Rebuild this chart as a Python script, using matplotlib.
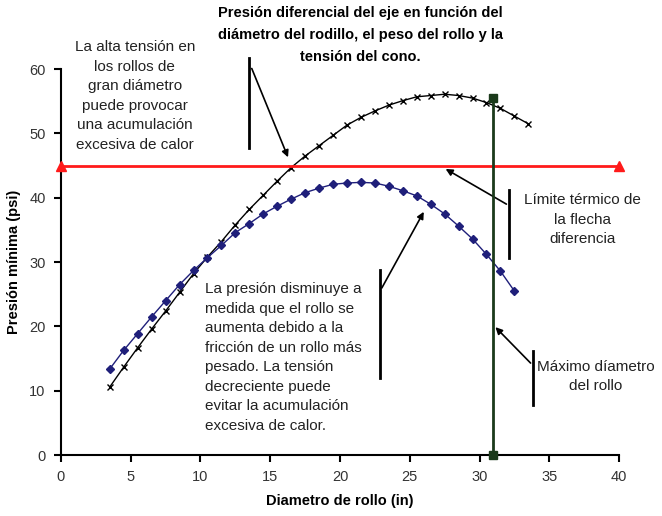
import matplotlib.pyplot as plt
import numpy as np

plt.rcParams['font.family'] = ['Liberation Sans', 'DejaVu Sans']

# roll diameter (in)
diam_tension = [3.5, 4.5, 5.5, 6.5, 7.5, 8.5, 9.5, 10.5, 11.5, 12.5, 13.5, 14.5, 15.5, 16.5, 17.5, 18.5,
                19.5, 20.5, 21.5, 22.5, 23.5, 24.5, 25.5, 26.5, 27.5, 28.5, 29.5, 30.5, 31.5, 32.5, 33.5]
pres_tension = [10.6, 13.7, 16.7, 19.6, 22.4, 25.3, 28.2, 30.8, 33.2, 35.8, 38.2, 40.4, 42.6, 44.7, 46.5, 48.1,
                49.7, 51.3, 52.5, 53.5, 54.4, 55.1, 55.7, 55.9, 56.1, 55.9, 55.5, 54.8, 53.9, 52.7, 51.5]

diam_taper = [3.5, 4.5, 5.5, 6.5, 7.5, 8.5, 9.5, 10.5, 11.5, 12.5, 13.5, 14.5, 15.5, 16.5, 17.5, 18.5,
              19.5, 20.5, 21.5, 22.5, 23.5, 24.5, 25.5, 26.5, 27.5, 28.5, 29.5, 30.5, 31.5, 32.5]
pres_taper = [13.4, 16.3, 18.9, 21.5, 24.0, 26.5, 28.7, 30.7, 32.6, 34.6, 36.0, 37.5, 38.7, 39.8, 40.8, 41.5,
              42.1, 42.3, 42.4, 42.3, 41.8, 41.1, 40.3, 39.0, 37.5, 35.6, 33.6, 31.2, 28.6, 25.5]

# thermal limit and max diameter
limit_x = [0, 40]
limit_y = [45, 45]
maxd_x = [31, 31]
maxd_y = [0, 55.5]

fig = plt.figure(figsize=(6.62, 5.16), dpi=100)
ax = fig.add_axes([0.0921, 0.118, 0.843, 0.748])

ax.plot(diam_tension, pres_tension, color='black', lw=1, marker='x', ms=4.5, mew=1)
ax.plot(diam_taper, pres_taper, color='#1f1f7a', lw=1, marker='D', ms=4.5)
ax.plot(limit_x, limit_y, color='#ff1a1a', lw=2, marker='^', ms=7, clip_on=False, zorder=5)
ax.plot(maxd_x, maxd_y, color='#1b3a1b', lw=2, marker='s', ms=6, clip_on=False, zorder=6)

ax.set_xlim(0, 40)
ax.set_ylim(0, 60)
ax.set_xticks(np.arange(0, 41, 5))
ax.set_yticks(np.arange(0, 61, 10))
for s in ['top', 'right']:
    ax.spines[s].set_visible(False)
for s in ['left', 'bottom']:
    ax.spines[s].set_linewidth(1.5)
ax.tick_params(direction='out', length=5, width=1.5, labelsize=10.5, labelcolor='#333333', pad=6)
ax.set_xlabel('Diametro de rollo (in)', fontsize=10.5, fontweight='bold', labelpad=7)
ax.set_ylabel('Presión mínima (psi)', fontsize=10.5, fontweight='bold', labelpad=6)

fig.text(0.544, 0.988, 'Presión diferencial del eje en función del\ndiámetro del rodillo, el peso del rollo y la\ntensión del cono.',
         ha='center', va='top', fontsize=10.5, fontweight='bold', linespacing=1.7)

txt = dict(fontsize=11, color='#222222', linespacing=1.5)
ax.text(5.3, 55.8, 'La alta tensión en\nlos rollos de\ngran diámetro\npuede provocar\nuna acumulación\nexcesiva de calor',
        ha='center', va='center', **txt)
ax.text(10.3, 15.2, 'La presión disminuye a\nmedida que el rollo se\naumenta debido a la\nfricción de un rollo más\npesado. La tensión\ndecreciente puede\nevitar la acumulación\nexcesiva de calor.',
        ha='left', va='center', **txt)
ax.text(37.4, 36.6, 'Límite térmico de\nla flecha\ndiferencia', ha='center', va='center', **txt)
ax.text(38.3, 12.2, 'Máximo díametro\ndel rollo', ha='center', va='center', **txt)

# label bars
bar = dict(color='black', lw=2, clip_on=False)
ax.plot([13.5, 13.5], [47.7, 61.7], **bar)
ax.plot([32.1, 32.1], [30.6, 41.2], **bar)
ax.plot([22.9, 22.9], [12.0, 28.8], **bar)
ax.plot([33.8, 33.8], [7.8, 16.2], **bar)

arr = dict(arrowstyle='-|>', color='black', lw=1.2, mutation_scale=10)
ax.annotate('', xy=(16.35, 45.9), xytext=(13.6, 60.5), arrowprops=arr, annotation_clip=False)
ax.annotate('', xy=(27.4, 44.7), xytext=(32.1, 38.8), arrowprops=arr)
ax.annotate('', xy=(26.1, 38.2), xytext=(22.9, 25.6), arrowprops=arr)
ax.annotate('', xy=(31.0, 20.2), xytext=(33.8, 14.0), arrowprops=arr)

fig.savefig('out.png', dpi=100)
